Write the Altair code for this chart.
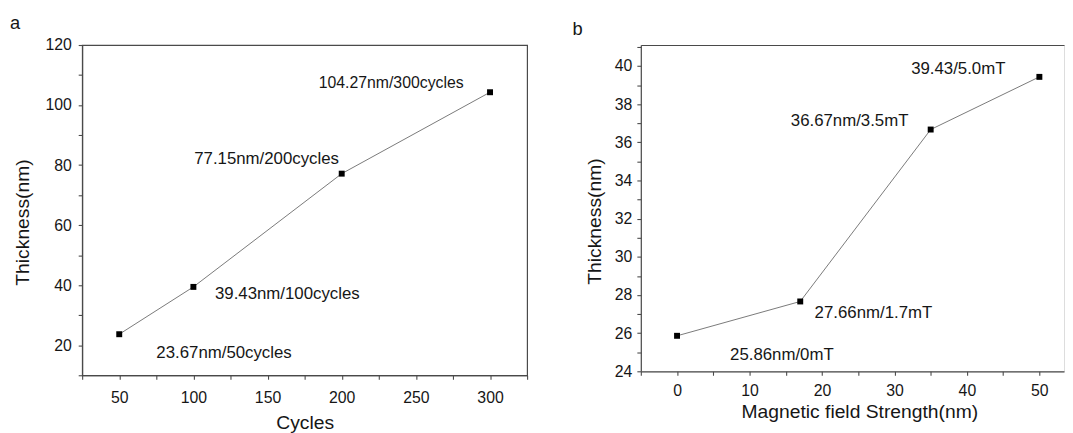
import altair as alt
import pandas as pd

# ---- data ----
cycles = [50, 100, 200, 300]
thick_a = [23.67, 39.43, 77.15, 104.27]
labels_a = ["23.67nm/50cycles", "39.43nm/100cycles", "77.15nm/200cycles", "104.27nm/300cycles"]

field = [0, 17, 35, 50]
thick_b = [25.86, 27.66, 36.67, 39.43]
labels_b = ["25.86nm/0mT", "27.66nm/1.7mT", "36.67nm/3.5mT", "39.43/5.0mT"]

xticks_a = list(range(25, 326, 25))
yticks_a = list(range(10, 121, 10))
xticks_b = list(range(-5, 51, 5))
yticks_b = list(range(24, 42))

FONT = "Liberation Sans"
AX = "#4a4a4a"
TXT = "#161616"

# label offsets (pixels) relative to each point
off_a = [(106, 19, 17), (95, 7, 17), (-76, -15, 17), (-100, -9, 16)]
off_b = [(106, 19, 17), (74, 12, 17), (-82, -9, 17), (-82, -8, 17)]


def axis(values, major, orient, title, label_pad, title_pad, **kw):
    return alt.Axis(
        values=values,
        labelExpr=f"datum.value % {major} == 0 ? datum.label : ''",
        orient=orient, title=title, grid=False,
        domain=True, domainColor=AX, domainWidth=1.2,
        ticks=True, tickColor=AX, tickWidth=1.1, tickSize=4,
        labelFont=FONT, labelFontSize=16, labelColor=TXT, labelPadding=label_pad,
        labelFlush=False, labelOverlap=False,
        titleFont=FONT, titleFontSize=19.5, titleFontWeight="normal", titleColor=TXT,
        titlePadding=title_pad, **kw)


def panel(xs, ys, labels, xdom, ydom, xax, yax, offs, top_axis):
    df = pd.DataFrame({"x": xs, "y": ys, "label": labels})
    sx = alt.Scale(domain=xdom, nice=False, zero=False)
    sy = alt.Scale(domain=ydom, nice=False, zero=False)
    X = alt.X("x:Q", scale=sx, axis=xax)
    Y = alt.Y("y:Q", scale=sy, axis=yax)
    base = alt.Chart(df)
    line = base.mark_line(color="#6a6a6a", strokeWidth=0.9).encode(x=X, y=Y)
    xp = X
    xt = X
    if top_axis:
        xp = alt.X("x:Q", scale=sx, axis=alt.Axis(orient="top", labels=False, ticks=False, title=None,
                                                   grid=False, domain=True, domainColor=AX, domainWidth=1.2))
        xt = alt.X("x:Q", scale=sx, axis=None)
    pts = base.mark_point(shape="square", filled=True, color="#000000", size=36, opacity=1).encode(
        x=xp, y=Y)
    texts = []
    for lab, (dx, dy, fs) in zip(labels, offs):
        texts.append(base.transform_filter(alt.datum.label == lab).mark_text(
            dx=dx, dy=dy, font=FONT, fontSize=fs, color=TXT, baseline="middle").encode(
            x=xt, y=Y, text="label:N"))
    return alt.layer(line, pts, *texts)


xa = axis(xticks_a, 50, "bottom", "Cycles", 11, 8)
ya = axis(yticks_a, 20, "left", "Thickness(nm)", 7, 13, titleY=179)
pa = panel(cycles, thick_a, labels_a, [25, 325], [10, 120], xa, ya, off_a, False).properties(
    width=450, height=334,
    view=alt.ViewBackground(stroke=AX, strokeWidth=1.2),
    title=alt.TitleParams("a", anchor="start", frame="group", dx=-73, offset=-10, baseline="alphabetic",
                          font=FONT, fontSize=18.5, fontWeight="normal", color=TXT))

xb = axis(xticks_b, 10, "bottom", "Magnetic field Strength(nm)", 7, 5, titleX=221)
yb = axis(yticks_b, 2, "left", "Thickness(nm)", 5, 10, titleY=178)
pb = panel(field, thick_b, labels_b, [-5, 53.4], [24, 41.1], xb, yb, off_b, True).properties(
    width=428, height=330,
    title=alt.TitleParams("b", anchor="start", frame="group", dx=-69, offset=-14, baseline="alphabetic",
                          font=FONT, fontSize=18.5, fontWeight="normal", color=TXT))

chart = alt.hconcat(pa, pb, spacing=115, bounds="flush").properties(
    padding={"left": 1, "top": 2, "right": 0, "bottom": 0}
).configure_view(stroke=None).configure(background="white")

chart.save("out.html", embed_options={"renderer": "svg", "actions": False})
